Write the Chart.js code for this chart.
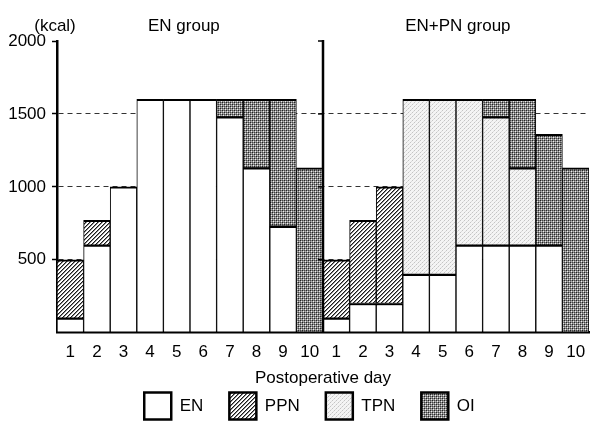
<!DOCTYPE html>
<html>
<head>
<meta charset="utf-8">
<script src="https://cdn.jsdelivr.net/npm/chart.js@4"></script>
<style>
  html, body { margin: 0; padding: 0; background: #fff; }
  #wrap { width: 600px; height: 438px; }
</style>
</head>
<body>
<div id="wrap"><canvas id="kcalChart"></canvas></div>
<script>
const days = ['1', '2', '3', '4', '5', '6', '7', '8', '9', '10',
              '1', '2', '3', '4', '5', '6', '7', '8', '9', '10'];
const enValues  = [100, 600, 1000, 1600, 1600, 1600, 1480, 1130, 730, null,
                   100, 200, 200, 400, 400, 600, 600, 600, 600, null];
const ppnValues = [400, 170, null, null, null, null, null, null, null, null,
                   400, 570, 800, null, null, null, null, null, null, null];
const tpnValues = [null, null, null, null, null, null, null, null, null, null,
                   null, null, null, 1200, 1200, 1000, 880, 530, null, null];
const oiValues  = [null, null, null, null, null, null, 120, 470, 870, 1130,
                   null, null, null, null, null, null, 120, 470, 760, 1130];
const groupTitles = ['EN group', 'EN+PN group'];
const yTicks = [500, 1000, 1500, 2000];

const FONT = 'Liberation Sans, Arial, Helvetica, sans-serif';

function makePattern(size, draw) {
    const c = document.createElement('canvas');
    c.width = c.height = size;
    const g = c.getContext('2d');
    draw(g);
    return g.createPattern(c, 'repeat');
}

// thin "/" hatching
const hatch = makePattern(4, (g) => {
    g.fillStyle = '#fff';
    g.fillRect(0, 0, 4, 4);
    g.fillStyle = '#1a1a1a';
    [[3, 0], [2, 1], [1, 2], [0, 3]].forEach(([x, y]) => g.fillRect(x, y, 1, 1));
    g.fillStyle = '#8a8a8a';
    [[0, 0], [3, 1], [2, 2], [1, 3]].forEach(([x, y]) => g.fillRect(x, y, 1, 1));
});

const lightDots = makePattern(4, (g) => {
    g.fillStyle = '#f4f4f4';
    g.fillRect(0, 0, 4, 4);
    g.fillStyle = '#c4c4c4';
    g.fillRect(0, 0, 1, 1);
    g.fillRect(2, 2, 1, 1);
    g.fillStyle = '#dcdcdc';
    g.fillRect(1, 3, 1, 1);
    g.fillRect(3, 1, 1, 1);
});

const darkDots = makePattern(4, (g) => {
    g.fillStyle = '#888';
    g.fillRect(0, 0, 4, 4);
    g.fillStyle = '#222';
    g.fillRect(0, 0, 1, 1);
    g.fillRect(2, 2, 1, 1);
    g.fillStyle = '#eee';
    g.fillRect(1, 1, 1, 1);
    g.fillRect(3, 3, 1, 1);
    g.fillStyle = '#444';
    g.fillRect(0, 2, 1, 1);
    g.fillRect(2, 0, 1, 1);
    g.fillStyle = '#bbb';
    g.fillRect(1, 3, 1, 1);
    g.fillRect(3, 1, 1, 1);
});

const barStyle = {
    borderColor: '#000',
    borderWidth: { top: 2, bottom: 1, left: 1, right: 1 },
    borderSkipped: false,
    barPercentage: 1.0,
    categoryPercentage: 1.0,
};

// middle axis, group titles and the (kcal) unit
const decorations = {
    id: 'decorations',
    afterLayout(chart) {
        // nudge the legend row up and to the right, like the original figure
        chart.legend.top -= 22;
        chart.legend.left += 15;
        chart.legend.right += 15;
    },
    afterDatasetsDraw(chart) {
        const { ctx, chartArea, scales: { x, y } } = chart;
        const midX = (x.getPixelForValue(9) + x.getPixelForValue(10)) / 2;
        ctx.save();
        ctx.strokeStyle = '#000';
        ctx.lineWidth = 2.5;
        ctx.beginPath();
        ctx.moveTo(midX, y.getPixelForValue(2000) - 1);
        ctx.lineTo(midX, chartArea.bottom);
        ctx.stroke();
        ctx.lineWidth = 1.5;
        yTicks.forEach((v) => {
            const py = y.getPixelForValue(v);
            ctx.beginPath();
            ctx.moveTo(midX - 5, py);
            ctx.lineTo(midX, py);
            ctx.stroke();
        });

        ctx.fillStyle = '#000';
        ctx.font = '17px ' + FONT;
        ctx.textAlign = 'center';
        ctx.textBaseline = 'middle';
        ctx.fillText(groupTitles[0], x.getPixelForValue(4.27), 26);
        ctx.fillText(groupTitles[1], x.getPixelForValue(14.57), 26);
        ctx.fillText('(kcal)', 55, 26);
        ctx.restore();
    },
};

new Chart(document.getElementById('kcalChart'), {
    type: 'bar',
    data: {
        labels: days,
        datasets: [
            { label: 'EN', data: enValues, backgroundColor: '#fff', ...barStyle },
            { label: 'PPN', data: ppnValues, backgroundColor: hatch, ...barStyle },
            { label: 'TPN', data: tpnValues, backgroundColor: lightDots, ...barStyle },
            { label: 'OI', data: oiValues, backgroundColor: darkDots, ...barStyle },
        ],
    },
    options: {
        responsive: true,
        maintainAspectRatio: false,
        animation: false,
        layout: { padding: { left: 0, right: 11, top: 41, bottom: 8 } },
        scales: {
            x: {
                stacked: true,
                grid: { display: false },
                border: { color: '#000', width: 2.5 },
                ticks: { color: '#000', font: { family: FONT, size: 17 }, padding: 1, maxRotation: 0, autoSkip: false },
                title: {
                    display: true,
                    text: 'Postoperative day',
                    color: '#000',
                    font: { family: FONT, size: 17 },
                    padding: { top: 5, bottom: 0 },
                },
            },
            y: {
                stacked: true,
                min: 0,
                max: 2000,
                afterFit: (scale) => { scale.width = 57; },
                border: { color: '#000', width: 2.5, dash: [5, 4] },
                grid: {
                    color: (c) => (c.tick && c.tick.value > 0 && c.tick.value < 2000 ? '#333' : 'rgba(0,0,0,0)'),
                    lineWidth: 1,
                    tickLength: 5,
                    tickColor: (c) => (c.tick && c.tick.value > 0 ? '#000' : 'rgba(0,0,0,0)'),
                    tickBorderDash: [],
                    tickWidth: 1.5,
                },
                ticks: {
                    stepSize: 500,
                    color: '#000',
                    padding: 6,
                    font: { family: FONT, size: 17 },
                    callback: (v) => (v === 0 ? '' : v),
                },
            },
        },
        plugins: {
            legend: {
                position: 'bottom',
                maxHeight: 41.5,
                labels: {
                    boxWidth: 27,
                    boxHeight: 27,
                    padding: 26,
                    color: '#000',
                    font: { family: FONT, size: 17 },
                    generateLabels: (chart) => Chart.defaults.plugins.legend.labels.generateLabels(chart).map((item) => ({
                        ...item,
                        lineWidth: 2.5,
                        strokeStyle: '#000',
                    })),
                },
            },
            tooltip: { enabled: false },
        },
    },
    plugins: [decorations],
});
</script>
</body>
</html>
